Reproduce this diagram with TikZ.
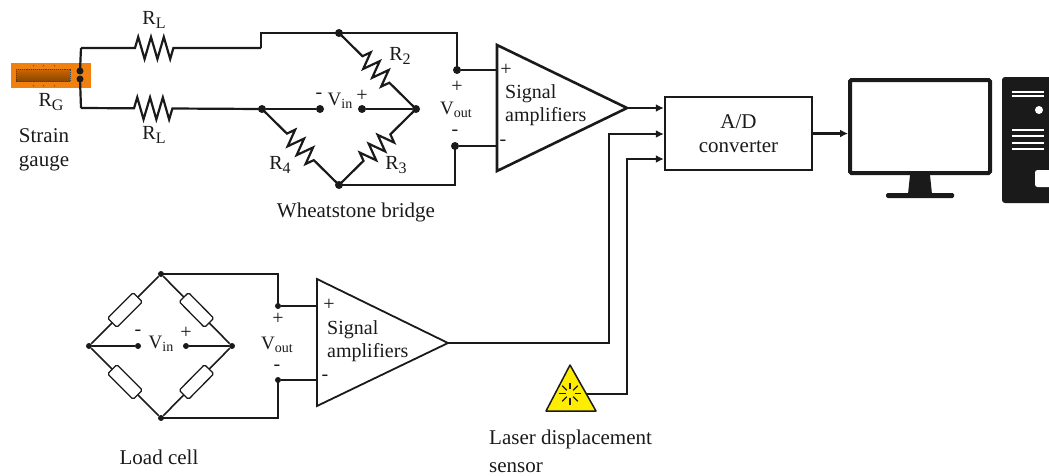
\documentclass[tikz,border=0pt]{standalone}
\usepackage{fontspec}
\setmainfont{Liberation Serif}
\usetikzlibrary{arrows.meta,decorations.pathmorphing,calc}
\definecolor{ink}{HTML}{1A1A1A}
\definecolor{gaugeor}{HTML}{F08010}
\newcommand{\lowtxt}[1]{\raisebox{-3pt}{\fontsize{14}{14}\selectfont #1}}
\newcommand{\lowres}[1]{\raisebox{-4pt}{\fontsize{16}{16}\selectfont #1}}
\tikzset{
  x=1pt,y=-1pt,
  wire/.style={line width=2.2pt,color=ink,line join=miter},
  thinwire/.style={line width=1.6pt,color=ink},
  arrowwire/.style={wire,-{Latex[length=8pt,width=8pt]}},
  dot/.style={circle,fill=ink,inner sep=0pt,minimum size=8pt},
  smalldot/.style={circle,fill=ink,inner sep=0pt,minimum size=6pt},
  txt/.style={font=\fontsize{21}{24}\selectfont,text=ink,inner sep=0pt},
  amptxt/.style={font=\fontsize{20}{23.5}\selectfont,text=ink,inner sep=0pt,align=left,anchor=west},
  vtxt/.style={font=\fontsize{19}{20}\selectfont,text=ink,inner sep=0pt},
  rtxt/.style={font=\fontsize{20}{20}\selectfont,text=ink,inner sep=0pt},
  sign/.style={font=\fontsize{20}{20}\selectfont,text=ink,inner sep=0pt},
  res/.style n args={2}{decorate,decoration={zigzag,segment length=12.6pt,amplitude=8.5pt,pre length=#1,post length=#2}},
  hres/.style n args={2}{decorate,decoration={zigzag,segment length=12.8pt,amplitude=11pt,pre length=#1,post length=#2}},
  rbox/.style={draw=ink,line width=1.3pt,fill=white,rounded corners=1.5pt,minimum width=36pt,minimum height=13pt,inner sep=0pt},
  adc/.style={draw=ink,line width=2.4pt,fill=white,minimum width=147pt,minimum height=73pt,inner sep=0pt,align=center,font=\fontsize{21}{24}\selectfont,text=ink},
}
\begin{document}
\begin{tikzpicture}
\useasboundingbox (0,0) rectangle (1049,475);
% strain gauge
\fill[gaugeor] (11,63) rectangle (91,88);
\draw[black!75,densely dotted,line width=.9pt,top color=orange!80!black,bottom color=orange!55!black] (16,69) rectangle (70,81);
\foreach \x in {33,43,54}{\draw[orange!50!black,line width=.5pt] (\x,65)--(\x+1,66.5) (\x,85)--(\x+1,86.5);}
\node[dot,minimum size=7pt] (padA) at (80,71) {};
\node[dot,minimum size=7pt] (padB) at (80,79) {};
% bridge nodes
\node[dot] (bt) at (339,33) {};
\node[dot] (br) at (416,109) {};
\node[dot] (bb) at (339,185) {};
\node[dot] (bl) at (262,109) {};
\node[dot] (vm) at (320,109) {};
\node[dot] (vp) at (362,109) {};
\node[dot] (vot) at (457,70) {};
\node[dot] (vob) at (455,146) {};
\coordinate (a1) at (81,48);
\coordinate (a2) at (261,48);
\coordinate (a3) at (261,33);
\coordinate (a4) at (81,108);
\coordinate (a5) at (457,33);
\coordinate (a6) at (455,185);
\draw[wire] (padA.center) -- (a1);
\draw[wire,hres={54pt}{87pt}] (a1) -- (a2);
\draw[wire] (a2) -- (a3) -- (bt.center) -- (a5) -- (vot.center);
\draw[wire] (padB.center) -- (a4);
\draw[wire,hres={53pt}{89pt}] (a4) -- (bl.center);
\draw[wire,res={33pt}{36pt}] (bt.center) -- (br.center);
\draw[wire,res={36pt}{33pt}] (br.center) -- (bb.center);
\draw[wire,res={35pt}{34pt}] (bl.center) -- (bb.center);
\draw[wire] (bl) -- (vm);
\draw[wire] (vp) -- (br);
\draw[wire] (bb.center) -- (a6) -- (vob.center);
% amp 1
\coordinate (ampAa) at (497,45);
\coordinate (ampAb) at (497,171);
\coordinate (ampAt) at (627,108);
\draw[line width=2.6pt,color=ink,line join=miter] (ampAa) -- (ampAt) -- (ampAb) -- cycle;
\draw[wire] (vot) -- (vot -| ampAa);
\draw[wire] (vob) -- (vob -| ampAa);
% adc
\node[adc] (adc) at (738.5,133.5) {A/D\\converter};
\draw[arrowwire] (ampAt) -- (ampAt -| adc.west);
% monitor
\coordinate (monL) at (848,133.5);
\draw[arrowwire] (adc.east) -- (monL);
\draw[line width=4pt,color=ink,rounded corners=1.5pt,fill=white] (850,80) rectangle (990,173);
\fill[ink] (910,175) -- (930,175) -- (932,194) -- (908,194) -- cycle;
\fill[ink,rounded corners=1.5pt] (886,193) rectangle (954,198);
% tower
\fill[ink,rounded corners=3pt] (1002,77) rectangle (1056,203);
\foreach \y in {92,96,130,136,143,149}{\draw[white,line width=2pt] (1012,\y) -- (1044,\y);}
\fill[white] (1039,110) circle (4);
\fill[white,rounded corners=2.5pt] (1035,170) rectangle (1056,187);
% load cell
\node[smalldot] (lt) at (161,274) {};
\node[smalldot] (lr) at (232,346) {};
\node[smalldot] (lb) at (161,418) {};
\node[smalldot] (ll) at (89,346) {};
\node[smalldot] (lvm) at (138,346) {};
\node[smalldot] (lvp) at (186,346) {};
\node[smalldot] (lot) at (278,306) {};
\node[smalldot] (lob) at (278,380) {};
\coordinate (c1) at (278,274);
\coordinate (c2) at (278,418);
\draw[thinwire] (lt) -- node[rbox,sloped]{} (ll);
\draw[thinwire] (lt) -- node[rbox,sloped]{} (lr);
\draw[thinwire] (lb) -- node[rbox,sloped]{} (ll);
\draw[thinwire] (lb) -- node[rbox,sloped]{} (lr);
\draw[thinwire] (ll) -- (lvm);
\draw[thinwire] (lvp) -- (lr);
\draw[thinwire] (lt.center) -- (c1) -- (lot.center);
\draw[thinwire] (lb.center) -- (c2) -- (lob.center);
\coordinate (ampBa) at (317,279);
\coordinate (ampBb) at (317,406);
\coordinate (ampBt) at (448,343);
\draw[line width=1.8pt,color=ink,line join=miter] (ampBa) -- (ampBt) -- (ampBb) -- cycle;
\draw[thinwire] (lot) -- (lot -| ampBa);
\draw[thinwire] (lob) -- (lob -| ampBa);
\coordinate (b1) at (609,343);
\coordinate (b2) at (609,134);
\draw[arrowwire] (ampBt) -- (b1) -- (b2) -- (b2 -| adc.west);
% laser
\coordinate (lsA) at (570,365);
\coordinate (lsB) at (596,411);
\coordinate (lsC) at (546,411);
\coordinate (lsO) at (586,394);
\coordinate (b3) at (627,394);
\coordinate (b4) at (627,159);
\draw[arrowwire] (lsO) -- (b3) -- (b4) -- (b4 -| adc.west);
\draw[line width=1.5pt,color=ink,fill=yellow!95!orange,line join=round] (lsA) -- (lsB) -- (lsC) -- cycle;
\foreach \a in {0,45,...,315}{\draw[line width=1.3pt,color=ink] ($(570,393.5)+(\a:4.5)$) -- ($(570,393.5)+(\a:11)$);}
% labels
\node[rtxt] (tRLa) at (154,20) {R\lowres{L}};
\node[rtxt] (tRLb) at (154,135) {R\lowres{L}};
\node[rtxt] (tRG) at (51,102) {R\lowres{G}};
\node[txt,align=center] (tSG) at (44,150) {Strain\\gauge};
\node[rtxt] (tR2) at (400,56) {R\lowres{2}};
\node[rtxt] (tR3) at (396,165) {R\lowres{3}};
\node[rtxt] (tR4) at (280,165) {R\lowres{4}};
\node[vtxt] (tVin) at (340,101) {V\lowtxt{in}};
\node[sign] (tvm) at (319,96) {-};
\node[sign] (tvp) at (362,96) {+};
\node[sign] (tot) at (457,87) {+};
\node[vtxt] (tVout) at (456,110) {V\lowtxt{out}};
\node[sign] (tob) at (455,133) {-};
\node[sign] (tap) at (506,70) {+};
\node[sign] (tam) at (503,143) {-};
\node[amptxt] (tSA) at (505,105) {Signal\\amplifiers};
\node[txt] (tWB) at (356,212) {Wheatstone bridge};
\node[vtxt] (tVinB) at (161,344) {V\lowtxt{in}};
\node[sign] (tlvm) at (138,333) {-};
\node[sign] (tlvp) at (186,333) {+};
\node[vtxt] (tVoutB) at (277,345) {V\lowtxt{out}};
\node[sign] (tlot) at (278,319) {+};
\node[sign] (tlob) at (277,368) {-};
\node[sign] (tlap) at (329,305) {+};
\node[sign] (tlam) at (325,378) {-};
\node[amptxt] (tSB) at (327,341) {Signal\\amplifiers};
\node[txt] (tLC) at (159,457) {Load cell};
\node[txt,align=left,anchor=west] (tLD) at (489,451) {Laser displacement\\[4pt]sensor};
\end{tikzpicture}
\end{document}
